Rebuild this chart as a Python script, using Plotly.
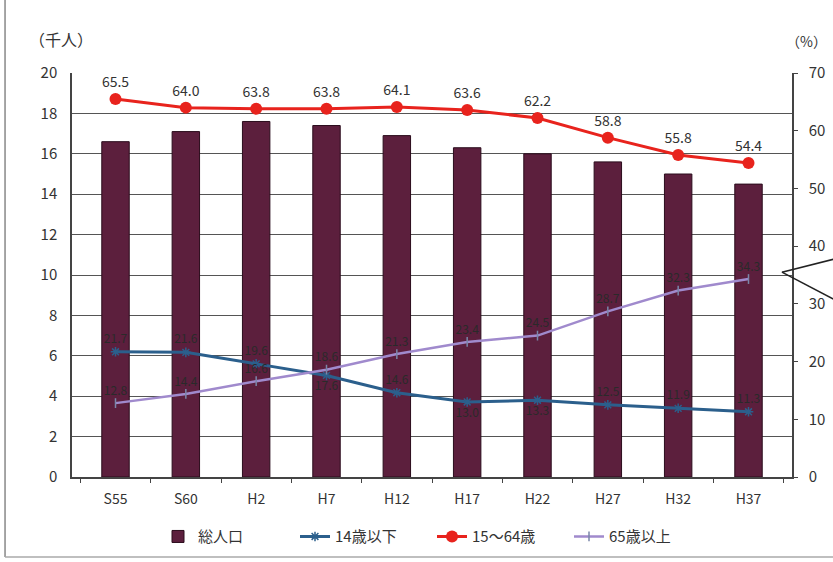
import plotly.graph_objects as go

categories = ["S55", "S60", "H2", "H7", "H12", "H17", "H22", "H27", "H32", "H37"]
total_pop = [16.6, 17.1, 17.6, 17.4, 16.9, 16.3, 16.0, 15.6, 15.0, 14.5]
age_0_14 = [21.7, 21.6, 19.6, 17.6, 14.6, 13.0, 13.3, 12.5, 11.9, 11.3]
age_15_64 = [65.5, 64.0, 63.8, 63.8, 64.1, 63.6, 62.2, 58.8, 55.8, 54.4]
age_65 = [12.8, 14.4, 16.6, 18.6, 21.3, 23.4, 24.5, 28.7, 32.3, 34.3]
left_ticks = [0, 2, 4, 6, 8, 10, 12, 14, 16, 18, 20]
right_ticks = [0, 10, 20, 30, 40, 50, 60, 70]

FONT = "Noto Sans CJK JP"
fig = go.Figure()

fig.add_trace(go.Bar(
    x=categories, y=total_pop, name="総人口",
    marker=dict(color="#5c1f3d", line=dict(color="#2a0c1c", width=1)),
    width=0.39, yaxis="y",
))
fig.add_trace(go.Scatter(
    x=categories, y=age_0_14, name="14歳以下", yaxis="y2",
    mode="lines+markers+text",
    line=dict(color="#2b5f8c", width=3),
    marker=dict(symbol="asterisk-open", size=8, color="#2b5f8c", line=dict(width=1.5, color="#2b5f8c")),
    text=[f"{v:.1f}" for v in age_0_14],
    textposition=["top center", "top center", "top center", "bottom center", "top center",
                   "bottom center", "bottom center", "top center", "top center", "top center"],
    textfont=dict(family=FONT, size=12, color="#2a2a2a"),
))
fig.add_trace(go.Scatter(
    x=categories, y=age_15_64, name="15～64歳", yaxis="y2",
    mode="lines+markers+text",
    line=dict(color="#e8231d", width=3),
    marker=dict(symbol="circle", size=12, color="#e8231d"),
    text=[f"{v:.1f}" for v in age_15_64],
    textposition="top center",
    textfont=dict(family=FONT, size=14, color="#333333"),
))
fig.add_trace(go.Scatter(
    x=categories, y=age_65, name="65歳以上", yaxis="y2",
    mode="lines+markers+text",
    line=dict(color="#a08acd", width=2.5),
    marker=dict(symbol="line-ns-open", size=7, color="#7a86a8", line=dict(width=1.5, color="#7a86a8")),
    text=[f"{v:.1f}" for v in age_65],
    textposition="top center",
    textfont=dict(family=FONT, size=12, color="#2a2a2a"),
))

fig.update_layout(
    width=833, height=562,
    margin=dict(l=72, r=41, t=73, b=85, autoexpand=False),
    paper_bgcolor="white", plot_bgcolor="white",
    font=dict(family=FONT, size=13, color="#333333"),
    showlegend=True,
    legend=dict(orientation="h", x=0.5, xref="paper", xanchor="center",
                yref="container", y=0.045, yanchor="middle",
                bgcolor="rgba(0,0,0,0)", entrywidth=92,
                font=dict(family=FONT, size=15, color="#333333"),
                traceorder="normal"),
    xaxis=dict(
        showline=True, linecolor="#444444", linewidth=1.5,
        ticks="outside", ticklen=4, tickcolor="#444444", tickson="boundaries",
        tickfont=dict(family=FONT, size=14, color="#333333"),
        ticklabelstandoff=8,
        showgrid=False, automargin=False,
    ),
    yaxis=dict(
        range=[0, 20], tickvals=left_ticks,
        showline=True, linecolor="#444444", linewidth=1.5,
        showgrid=True, gridcolor="#555555", gridwidth=1.3,
        tickfont=dict(family=FONT, size=15, color="#333333"),
        ticklabelstandoff=10,
        ticks="", zeroline=False, automargin=False,
    ),
    yaxis2=dict(
        range=[0, 70], tickvals=right_ticks, overlaying="y", side="right",
        showline=True, linecolor="#444444", linewidth=1.5,
        showgrid=False, ticks="outside", ticklen=4, tickcolor="#444444",
        tickfont=dict(family=FONT, size=15, color="#333333"),
        ticklabelstandoff=8,
        zeroline=False, automargin=False,
    ),
    annotations=[
        dict(text="（千人）", xref="paper", yref="paper", x=-0.062, y=1.05,
             xanchor="left", yanchor="bottom", showarrow=False,
             font=dict(family=FONT, size=16, color="#333333")),
        dict(text="（%）", xref="paper", yref="paper", x=1.02, y=1.05,
             xanchor="center", yanchor="bottom", showarrow=False,
             font=dict(family=FONT, size=14, color="#333333")),
    ],
    shapes=[
        dict(type="line", xref="paper", yref="paper", x0=-0.093, x1=-0.093, y0=-0.198, y1=1.2,
             line=dict(color="#888888", width=1.5)),
        dict(type="line", xref="paper", yref="paper", x0=-0.093, x1=1.06, y0=-0.198, y1=-0.198,
             line=dict(color="#aaaaaa", width=1.5)),
        dict(type="line", xref="paper", yref="paper", x0=0.986, x1=1.06, y0=0.507, y1=0.54,
             line=dict(color="#222222", width=1.5)),
        dict(type="line", xref="paper", yref="paper", x0=0.986, x1=1.06, y0=0.507, y1=0.438,
             line=dict(color="#222222", width=1.5)),
    ],
)

fig.write_html("out.html")
